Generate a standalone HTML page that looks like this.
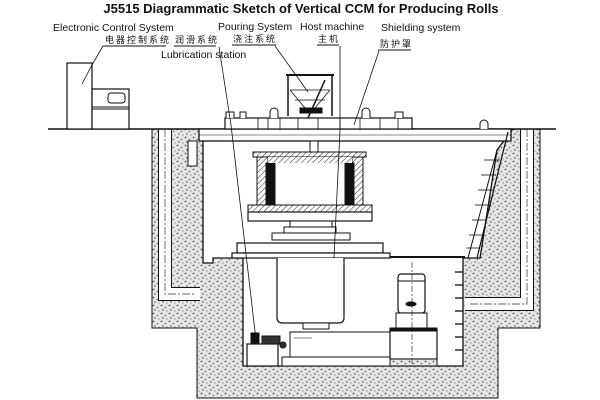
<!DOCTYPE html>
<html><head><meta charset="utf-8"><style>
html,body{margin:0;padding:0;background:#fff;width:600px;height:400px;overflow:hidden}
svg{display:block}
text{font-family:"Liberation Sans","Noto Sans CJK SC",sans-serif;fill:#111}
</style></head><body>
<svg width="600" height="400" viewBox="0 0 600 400" xmlns="http://www.w3.org/2000/svg">
<defs>
<pattern id="conc" width="8" height="8" patternUnits="userSpaceOnUse">
<rect width="8" height="8" fill="#e6e6e6"/>
<circle cx="1.5" cy="1.5" r="0.9" fill="#555"/>
<circle cx="5.5" cy="3.5" r="0.8" fill="#666"/>
<circle cx="3" cy="6" r="0.7" fill="#444"/>
<circle cx="7" cy="7" r="0.6" fill="#777"/>
</pattern>
<pattern id="hatch" width="4" height="4" patternUnits="userSpaceOnUse" patternTransform="rotate(45)">
<rect width="4" height="4" fill="#fff"/><line x1="0" y1="0" x2="0" y2="4" stroke="#222" stroke-width="1"/>
</pattern>
</defs>
<g stroke="#111" stroke-width="1" fill="none">
<text x="301" y="13" font-size="13" font-weight="bold" text-anchor="middle" stroke="none">J5515 Diagrammatic Sketch of Vertical CCM for Producing Rolls</text>
<text x="53" y="31" font-size="10.5" stroke="none">Electronic Control System</text>
<text x="105" y="43" font-size="9" stroke="none" letter-spacing="2">电器控制系统</text>
<line x1="103" y1="46" x2="166" y2="46"/>
<text x="175" y="43" font-size="9" stroke="none" letter-spacing="2">润滑系统</text>
<line x1="174" y1="46" x2="216" y2="46"/>
<text x="161" y="58" font-size="10.5" stroke="none">Lubrication  station</text>
<text x="218" y="30" font-size="10.5" stroke="none">Pouring System</text>
<text x="233" y="42" font-size="9" stroke="none" letter-spacing="2">浇注系统</text>
<line x1="232" y1="45" x2="276" y2="45"/>
<text x="300" y="30" font-size="10.5" stroke="none">Host machine</text>
<text x="318" y="42" font-size="9" stroke="none" letter-spacing="2">主机</text>
<line x1="317" y1="45" x2="339" y2="45"/>
<text x="381" y="31" font-size="10.5" stroke="none">Shielding system</text>
<text x="380" y="47" font-size="9" stroke="none" letter-spacing="2">防护罩</text>
<line x1="378" y1="50" x2="411" y2="50"/>

<path d="M152 129 L540 129 L540 328 L498 328 L498 398 L197 398 L197 328 L152 328 Z" fill="url(#conc)"/>
<path d="M165 129 L165 294 L200 294" stroke="#111" stroke-width="14"/>
<path d="M165 129 L165 294 L200 294" stroke="#fff" stroke-width="12"/>
<path d="M165 129 L165 294 L196 294" stroke="#333" stroke-width="0.7" stroke-dasharray="8,2,2,2"/>
<path d="M527 129 L527 304 L465 304" stroke="#111" stroke-width="14"/>
<path d="M527 129 L527 304 L465 304" stroke="#fff" stroke-width="12"/>
<path d="M527 129 L527 304 L470 304" stroke="#333" stroke-width="0.7" stroke-dasharray="8,2,2,2"/>
<path d="M203 130 L512 130 L497 150 L480 258 L463 258 L463 366 L243 366 L243 258 L213 258 L213 263 L203 263 Z" fill="#fff" stroke-width="1.3"/>
<line x1="48" y1="129" x2="556" y2="129" stroke-width="1.6"/>
<rect x="67" y="63" width="25" height="66" fill="#fff" stroke-width="1.2"/>
<rect x="92" y="89" width="37" height="40" fill="#fff" stroke-width="1.2"/>
<rect x="108" y="93" width="17" height="10" rx="3"/>
<line x1="92" y1="107" x2="129" y2="107"/><line x1="92" y1="109" x2="129" y2="109"/>
<rect x="199" y="129" width="312" height="12" fill="#fff" stroke-width="1.3"/>
<line x1="199" y1="135" x2="511" y2="135" stroke-width="0.6"/>
<rect x="188" y="141" width="9" height="25" fill="#fff"/>
<rect x="310" y="141" width="8" height="14" fill="#fff"/>
<rect x="225" y="118" width="187" height="11" fill="#fff" stroke-width="1.2"/>
<g stroke-width="0.8">
<line x1="258" y1="118" x2="258" y2="129"/><line x1="268" y1="118" x2="268" y2="129"/>
<line x1="280" y1="118" x2="280" y2="129"/><line x1="298" y1="118" x2="298" y2="129"/>
<line x1="318" y1="118" x2="318" y2="129"/><line x1="340" y1="118" x2="340" y2="129"/>
<line x1="360" y1="118" x2="360" y2="129"/><line x1="380" y1="118" x2="380" y2="129"/>
<line x1="398" y1="118" x2="398" y2="129"/>
</g>
<path d="M226 118 v-6 h8 v6 M240 118 v-6 h6 v6 M270 118 v-6 a4 4 0 0 1 8 0 v6 M362 118 v-6 a4 4 0 0 1 8 0 v6 M395 118 v-6 h8 v6 M480 129 v-5 a4 4 0 0 1 8 0 v5" fill="#fff"/>
<path d="M288 116 V75 H332 V116" stroke-width="1.5"/>
<line x1="286" y1="75" x2="334" y2="75" stroke-width="2"/>
<path d="M290 90 L305 108 L315 108 L330 90 M290 90 H330 M295 100 H325" stroke-width="0.8"/>
<line x1="325" y1="80" x2="308" y2="118" stroke-width="1.5"/>
<rect x="300" y="108" width="22" height="5" fill="#111"/>
<rect x="253" y="152" width="113" height="5" fill="url(#hatch)"/>
<rect x="257" y="157" width="11" height="49" fill="url(#hatch)"/>
<rect x="352" y="157" width="11" height="49" fill="url(#hatch)"/>
<rect x="266" y="163" width="9" height="42" fill="#111"/>
<rect x="345" y="163" width="9" height="42" fill="#111"/>
<rect x="268" y="157" width="84" height="6" fill="url(#hatch)" stroke="none"/>
<rect x="248" y="205" width="124" height="7" fill="url(#hatch)"/>
<rect x="248" y="212" width="124" height="9" fill="#fff" stroke-width="1.2"/>
<rect x="290" y="221" width="42" height="6" fill="#fff"/>
<rect x="284" y="227" width="52" height="6" fill="#fff"/>
<rect x="272" y="233" width="78" height="7" fill="#fff"/>
<rect x="237" y="243" width="146" height="10" fill="#fff" stroke-width="1.2"/>
<rect x="232" y="253" width="158" height="5" fill="#fff" stroke-width="1.2"/>
<line x1="390" y1="257" x2="465" y2="257" stroke-width="2"/>
<path d="M277 258 V318 Q277 323 283 323 H338 Q344 323 344 318 V258" fill="#fff" stroke-width="1.2"/>
<rect x="303" y="323" width="26" height="6" fill="#fff"/>
<rect x="290" y="332" width="100" height="26" fill="#fff"/>
<rect x="282" y="357" width="108" height="9" fill="#fff"/>
<line x1="294" y1="338" x2="312" y2="338" stroke-width="0.6"/>
<rect x="247" y="344" width="31" height="22" fill="#fff" stroke-width="1.2"/>
<rect x="251" y="333" width="8" height="11" fill="#111"/>
<path d="M262 336 h18 v8 h-18 z" fill="#333"/>
<circle cx="283" cy="345" r="3" fill="#333"/>
<rect x="398" y="274" width="27" height="39" rx="3" fill="#fff" stroke-width="1.2"/>
<line x1="398" y1="281" x2="425" y2="281"/>
<ellipse cx="411" cy="304" rx="5" ry="2" fill="#111"/>
<rect x="396" y="313" width="31" height="16" fill="#fff"/>
<rect x="390" y="330" width="47" height="29" fill="#fff" stroke-width="1.2"/>
<rect x="390" y="328" width="47" height="3" fill="#111"/>
<rect x="390" y="359" width="47" height="7" fill="url(#conc)"/>
<line x1="412" y1="262" x2="412" y2="366" stroke-width="0.6" stroke-dasharray="6,2,2,2"/>
<g stroke-width="1.3"><line x1="455" y1="272" x2="463" y2="272"/><line x1="455" y1="285" x2="463" y2="285"/><line x1="455" y1="298" x2="463" y2="298"/><line x1="455" y1="311" x2="463" y2="311"/><line x1="455" y1="324" x2="463" y2="324"/><line x1="455" y1="337" x2="463" y2="337"/><line x1="455" y1="350" x2="463" y2="350"/></g>
<line x1="508" y1="132" x2="477" y2="258" stroke-width="1.2"/>
<line x1="497" y1="150" x2="468" y2="258" stroke-width="1"/>
<g stroke-width="0.8"><line x1="484" y1="160" x2="500" y2="160"/><line x1="481" y1="175" x2="496" y2="175"/><line x1="478" y1="190" x2="493" y2="190"/><line x1="475" y1="205" x2="490" y2="205"/><line x1="472" y1="220" x2="486" y2="220"/><line x1="469" y1="235" x2="482" y2="235"/><line x1="466" y1="248" x2="479" y2="248"/></g>
<path d="M103 46 L92 65 L82 84" stroke-width="0.8"/>
<path d="M219 47 L231 125 L256 340" stroke-width="0.8"/>
<path d="M275 46 L308 92" stroke-width="0.8"/>
<path d="M340 46 L340 130 L334 258" stroke-width="0.8"/>
<path d="M379 51 L354 125" stroke-width="0.8"/>
</g>
</svg>
</body></html>
